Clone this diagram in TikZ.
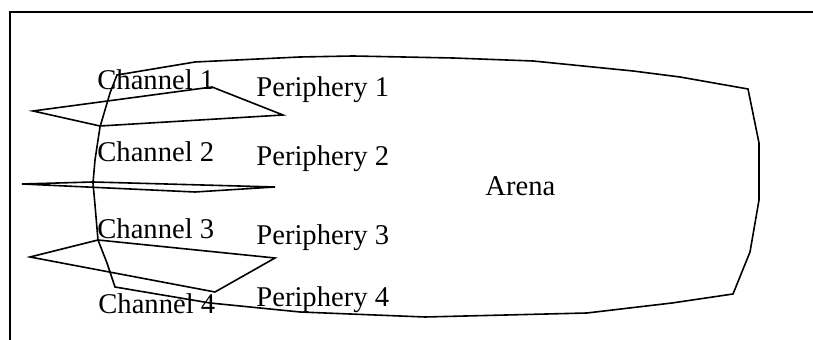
\documentclass[tikz,border=0pt]{standalone}
\usepackage{fontspec}
\setmainfont{Liberation Serif}
\begin{document}
\begin{tikzpicture}[x=0.5pt,y=-0.5pt,
  shp/.style={draw=black,line width=0.8pt,line join=miter},
  lbl/.style={inner sep=0pt,anchor=base west,font=\fontsize{14.3pt}{17pt}\selectfont}]
\useasboundingbox (0,0) rectangle (813,340);
% frame
\draw[line width=0.8pt] (10,340) -- (10,12) -- (813,12);
% arena
\draw[shp] (117,75) -- (195,62) -- (300,57) -- (353,56) -- (453,58) -- (533,61)
  -- (633,71) -- (680,77) -- (748,89) -- (759,143) -- (759,200) -- (750,252)
  -- (733,294) -- (672,303) -- (587,313) -- (425,317) -- (300,312) -- (210,303)
  -- (115,287) -- (107,263) -- (98,240) -- (95,205) -- (93,183) -- (95,160)
  -- (100,127) -- (110,93) -- cycle;
% channels
\draw[shp] (33,111) -- (212,87) -- (283,115) -- (100,126) -- cycle;
\draw[shp] (22,184) -- (93,182) -- (275,187) -- (195,192) -- cycle;
\draw[shp] (30,257) -- (98,240) -- (275,258) -- (215,292) -- cycle;
% labels
\node[lbl] (c1) at (97,90) {Channel 1};
\node[lbl] (c2) at (97,162) {Channel 2};
\node[lbl] (c3) at (97,239) {Channel 3};
\node[lbl] (c4) at (98,314) {Channel 4};
\node[lbl] (p1) at (256,97) {Periphery 1};
\node[lbl] (p2) at (256,166) {Periphery 2};
\node[lbl] (p3) at (256,245) {Periphery 3};
\node[lbl] (p4) at (256,307) {Periphery 4};
\node[lbl] (ar) at (485,196) {Arena};
\end{tikzpicture}
\end{document}
